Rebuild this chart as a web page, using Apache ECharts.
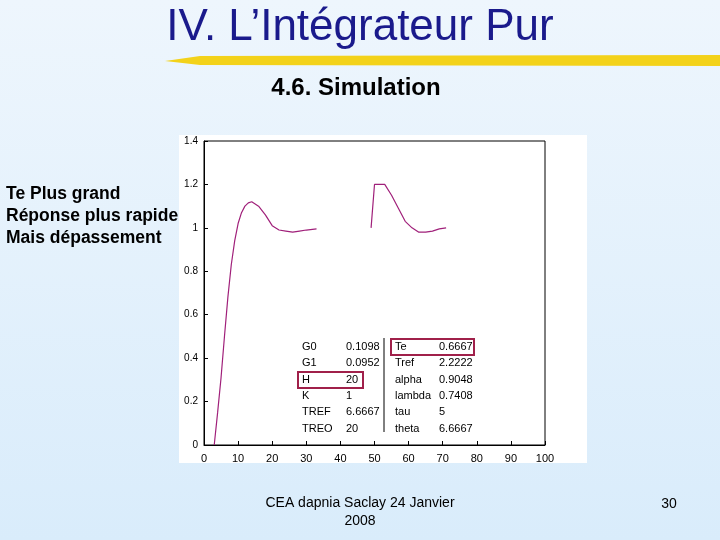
<!DOCTYPE html><html><head><meta charset="utf-8"><script src="https://cdn.jsdelivr.net/npm/echarts@6/dist/echarts.min.js"></script>
<style>html,body{margin:0;padding:0}#c{width:720px;height:540px}</style></head><body><div id="c"></div><script>
const curve1 = [[3,0],[4,0.15],[5,0.31],[6,0.5],[7,0.68],[8,0.83],[9,0.94],[10,1.02],[11,1.07],[12,1.1],[13,1.115],[14,1.12],[16,1.1],[18,1.06],[20,1.01],[22,0.99],[24,0.985],[26,0.98],[28,0.985],[30,0.99],[33,0.995]];
const curve2 = [[49,1.0],[50,1.2],[53,1.2],[55,1.15],[57,1.09],[59,1.03],[61,1.0],[63,0.98],[65,0.98],[67,0.985],[69,0.995],[71,1.0]];
const xTicks = ['0','10','20','30','40','50','60','70','80','90','100'];
const yTicks = ['0','0.2','0.4','0.6','0.8','1','1.2','1.4'];
const tableL = [['G0','0.1098'],['G1','0.0952'],['H','20'],['K','1'],['TREF','6.6667'],['TREO','20']];
const tableR = [['Te','0.6667'],['Tref','2.2222'],['alpha','0.9048'],['lambda','0.7408'],['tau','5'],['theta','6.6667']];
const ch = echarts.init(document.getElementById('c'));
const g = [
 {type:'rect',shape:{x:0,y:0,width:720,height:540},style:{fill:new echarts.graphic.LinearGradient(0,0,0,1,[{offset:0,color:'#eef6fd'},{offset:1,color:'#d9ecfb'}])},z:-10},
 {type:'rect',shape:{x:179,y:135,width:408,height:328},style:{fill:'#fff'},z:-5},
 {type:'text',x:360,y:28,style:{text:'IV. L’Intégrateur Pur',font:'44px Arial, Liberation Sans',fill:'#1a1a8c',align:'center',verticalAlign:'middle'}},
 {type:'polygon',shape:{points:[[165,61],[200,56],[720,55],[720,66],[200,65]]},style:{fill:'#f3d21a'}},
 {type:'text',x:356,y:88,style:{text:'4.6. Simulation',font:'bold 24px Arial, Liberation Sans',fill:'#000',align:'center',verticalAlign:'middle'}},
 {type:'text',x:6,y:183,style:{text:'Te Plus grand\nRéponse plus rapide\nMais dépassement',font:'bold 17.5px Arial, Liberation Sans',fill:'#000',lineHeight:22,verticalAlign:'top'}},
 {type:'text',x:360,y:512,style:{text:'CEA dapnia Saclay 24 Janvier\n2008',font:'14px Arial, Liberation Sans',fill:'#000',align:'center',lineHeight:18,verticalAlign:'middle'}},
 {type:'text',x:669,y:504,style:{text:'30',font:'14px Arial, Liberation Sans',fill:'#000',align:'center',verticalAlign:'middle'}},
 {type:'line',shape:{x1:384,y1:338,x2:384,y2:432},style:{stroke:'#000',lineWidth:1}},
 {type:'rect',shape:{x:391,y:339,width:83,height:16},style:{fill:'none',stroke:'#a0204a',lineWidth:2}},
 {type:'rect',shape:{x:298,y:372,width:65,height:16},style:{fill:'none',stroke:'#a0204a',lineWidth:2}}
];
tableL.forEach((r,i)=>{g.push({type:'text',x:302,y:347+i*16.3,style:{text:r[0],font:'11px Arial',fill:'#000',verticalAlign:'middle'}});g.push({type:'text',x:346,y:347+i*16.3,style:{text:r[1],font:'11px Arial',fill:'#000',verticalAlign:'middle'}});});
tableR.forEach((r,i)=>{g.push({type:'text',x:395,y:347+i*16.3,style:{text:r[0],font:'11px Arial',fill:'#000',verticalAlign:'middle'}});g.push({type:'text',x:439,y:347+i*16.3,style:{text:r[1],font:'11px Arial',fill:'#000',verticalAlign:'middle'}});});
const axLine={show:true,lineStyle:{color:'#000',width:1}};
ch.setOption({
 animation:false,
 grid:{left:204,right:175,top:141,bottom:95,show:true,borderColor:'#000',borderWidth:1},
 xAxis:{type:'value',min:0,max:100,interval:10,axisLine:axLine,axisTick:{show:true,inside:true,length:4,lineStyle:{color:'#000'}},splitLine:{show:false},axisLabel:{color:'#000',fontSize:11,formatter:(v)=>xTicks[Math.round(v/10)]}},
 yAxis:{type:'value',min:0,max:1.4,interval:0.2,axisLine:axLine,axisTick:{show:true,inside:true,length:4,lineStyle:{color:'#000'}},splitLine:{show:false},axisLabel:{color:'#000',fontSize:10,margin:6,formatter:(v)=>yTicks[Math.round(v/0.2)]}},
 series:[
  {type:'line',data:curve1,showSymbol:false,lineStyle:{color:'#a0207a',width:1.2}},
  {type:'line',data:curve2,showSymbol:false,lineStyle:{color:'#a0207a',width:1.2}}
 ],
 graphic:g
});
</script></body></html>
